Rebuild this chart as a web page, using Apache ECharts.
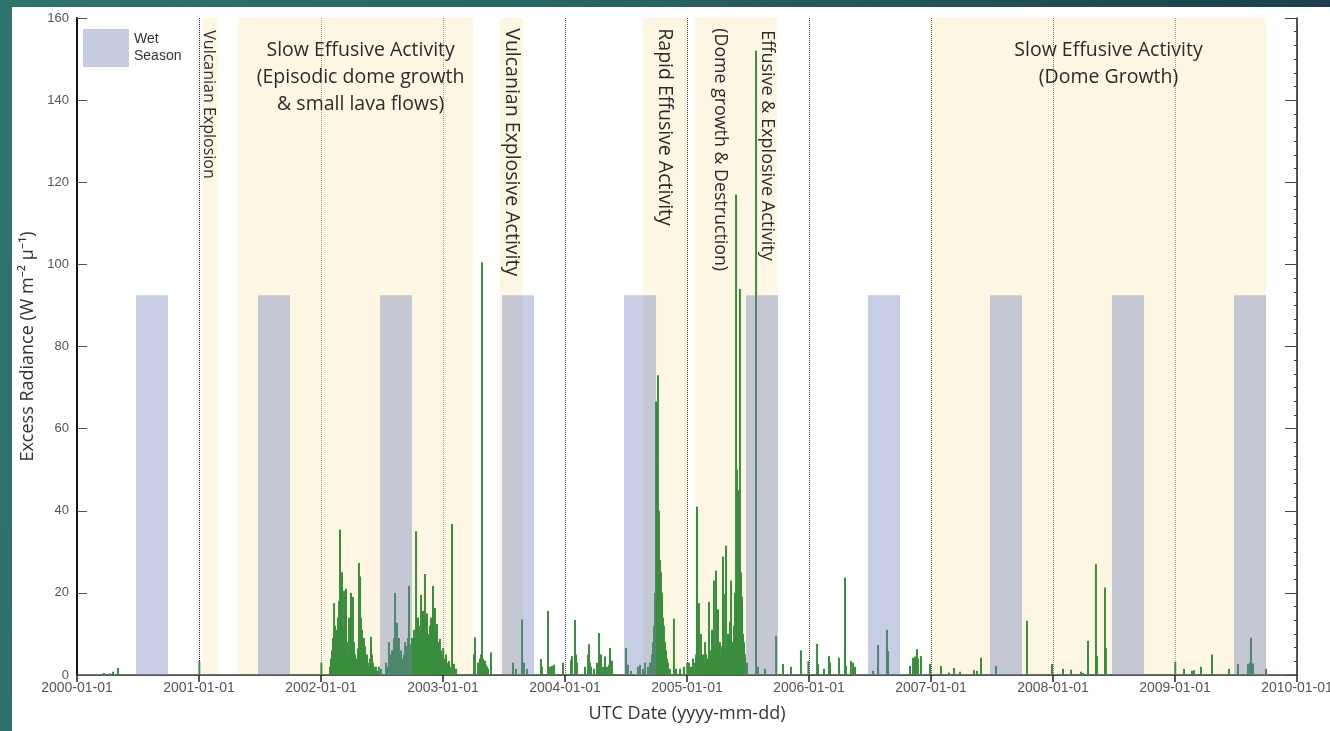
<!DOCTYPE html>
<html>
<head>
<meta charset="utf-8">
<script src="https://cdn.jsdelivr.net/npm/echarts@6/dist/echarts.min.js"></script>
<style>
  html, body { margin: 0; padding: 0; width: 1330px; height: 731px; overflow: hidden;
    background: linear-gradient(100deg, #2f746d 0%, #28625f 45%, #1a374b 100%); }
  #main { position: absolute; left: 12px; top: 7px; width: 1318px; height: 724px; background: #fff; }
</style>
</head>
<body>
<div id="main"></div>
<script>
// observation time as decimal year (UTC)
const obsYear = [
  // 2000 - 2001
  2000.221, 2000.270, 2000.295, 2000.336, 2001.003, 2002.003,
  // early 2002
  2002.074, 2002.082, 2002.090, 2002.098, 2002.107, 2002.115, 2002.123, 2002.131, 2002.139, 2002.148,
  2002.156, 2002.164, 2002.172, 2002.180, 2002.189, 2002.197, 2002.205, 2002.213, 2002.221, 2002.230,
  2002.238, 2002.246, 2002.254, 2002.262, 2002.270, 2002.279, 2002.287, 2002.295, 2002.303, 2002.311,
  2002.320, 2002.328, 2002.336, 2002.344, 2002.352, 2002.361, 2002.369, 2002.377, 2002.385, 2002.393,
  2002.402, 2002.410, 2002.418, 2002.426, 2002.434, 2002.451, 2002.467, 2002.475, 2002.492,
  // late 2002 - early 2003
  2002.533, 2002.541, 2002.557, 2002.566, 2002.574, 2002.582, 2002.590, 2002.598, 2002.607, 2002.615,
  2002.623, 2002.631, 2002.639, 2002.648, 2002.656, 2002.664, 2002.672, 2002.680, 2002.689, 2002.697,
  2002.705, 2002.713, 2002.721, 2002.730, 2002.738, 2002.746, 2002.754, 2002.762, 2002.770, 2002.779,
  2002.787, 2002.795, 2002.803, 2002.811, 2002.820, 2002.828, 2002.836, 2002.844, 2002.852, 2002.861,
  2002.869, 2002.877, 2002.885, 2002.893, 2002.902, 2002.910, 2002.918, 2002.926, 2002.934, 2002.943,
  2002.951, 2002.959, 2002.967, 2002.975, 2002.984, 2002.992, 2003.002, 2003.008, 2003.016, 2003.025,
  2003.033, 2003.041, 2003.049, 2003.057, 2003.074, 2003.090, 2003.107,
  // 2003
  2003.254, 2003.262, 2003.287, 2003.303, 2003.311, 2003.320, 2003.328, 2003.336, 2003.344, 2003.352,
  2003.361, 2003.369, 2003.393,
  2003.574, 2003.598, 2003.648, 2003.664, 2003.689, 2003.803, 2003.811, 2003.861, 2003.877, 2003.893,
  2003.910, 2003.984,
  // 2004
  2004.049, 2004.057, 2004.082, 2004.090, 2004.098, 2004.164, 2004.189, 2004.197, 2004.205, 2004.213,
  2004.238, 2004.262, 2004.270, 2004.279, 2004.287, 2004.295, 2004.303, 2004.320, 2004.328, 2004.344,
  2004.361, 2004.369, 2004.377, 2004.385, 2004.500, 2004.516, 2004.541, 2004.598, 2004.615, 2004.639,
  // rapid effusive phase
  2004.656, 2004.680, 2004.697, 2004.713, 2004.721, 2004.730, 2004.738, 2004.746, 2004.754, 2004.762,
  2004.770, 2004.779, 2004.787, 2004.795, 2004.803, 2004.811, 2004.820, 2004.828, 2004.836, 2004.844,
  2004.861, 2004.893, 2004.910, 2004.943, 2004.975, 2005.002, 2005.016, 2005.033, 2005.049,
  // 2005
  2005.066, 2005.074, 2005.082, 2005.090, 2005.098, 2005.107, 2005.115, 2005.123, 2005.131, 2005.139,
  2005.148, 2005.156, 2005.164, 2005.172, 2005.180, 2005.189, 2005.197, 2005.205, 2005.213, 2005.221,
  2005.230, 2005.238, 2005.246, 2005.254, 2005.262, 2005.270, 2005.279, 2005.287, 2005.295, 2005.303,
  2005.311, 2005.320, 2005.328, 2005.336, 2005.344, 2005.352, 2005.361, 2005.369, 2005.377, 2005.385,
  2005.393, 2005.402, 2005.410, 2005.418, 2005.426, 2005.434, 2005.443, 2005.451, 2005.459, 2005.467,
  2005.475, 2005.492, 2005.566, 2005.582, 2005.639, 2005.730,
  // late 2005 - 2009
  2005.787, 2005.852, 2005.934, 2005.995, 2006.066, 2006.074, 2006.123, 2006.164, 2006.172, 2006.246,
  2006.295, 2006.303, 2006.344, 2006.361, 2006.377, 2006.525, 2006.566, 2006.639, 2006.648, 2006.828,
  2006.852, 2006.869, 2006.885, 2006.893, 2006.918, 2006.992, 2007.082, 2007.148, 2007.189, 2007.238,
  2007.352, 2007.377, 2007.410, 2007.533, 2007.787, 2007.992, 2008.082, 2008.148, 2008.230, 2008.246,
  2008.287, 2008.352, 2008.361, 2008.426, 2008.434, 2009.002, 2009.074, 2009.139, 2009.156, 2009.213,
  2009.303, 2009.443, 2009.516, 2009.598, 2009.615, 2009.623, 2009.639, 2009.746
];

// excess radiance, W m-2 µ-1
const radiance = [
  0.5, 0.4, 0.8, 1.7, 3.4, 3,
  2, 4, 6, 9, 17.5, 12, 8, 11, 14, 18,
  35.4, 16, 25, 12, 20.5, 10, 21, 8, 5, 14,
  9, 20, 12, 19, 8, 5, 3, 4, 6.5, 27.3,
  24, 14, 11, 7, 9, 7, 4, 5, 3, 2,
  4, 9.3, 5, 3, 2, 2, 1, 2, 1.5,
  3, 2, 8, 4, 5, 6, 3, 9, 20, 5,
  12.7, 6, 9, 4, 6, 3, 4, 5, 8, 7,
  5, 9, 21.7, 6, 7.5, 9, 7, 11, 9, 35,
  10, 14, 12, 10, 19.5, 11, 15.6, 12, 24.6, 13,
  15, 9, 10, 12, 14, 10, 21.7, 13, 16.3, 10,
  12.4, 8, 6, 8.8, 6, 5, 6.6, 3, 4, 5,
  2, 3, 3.4, 2, 36.8, 2.7, 1.5,
  5, 9.2, 3, 4, 5, 100.5, 4, 3, 3.5, 2.5,
  2, 1.5, 5.5,
  3, 1.5, 13.5, 3, 1.5, 3.9, 2, 15.6, 2, 2.2,
  2.5, 3,
  3.6, 4.6, 13.4, 5, 3, 2, 5, 7.5, 3, 2,
  1.5, 3, 2.5, 10.2, 3, 5, 2, 2, 4.5, 2,
  2.5, 6.6, 3, 3.5, 6.6, 2.5, 1, 2, 2.5, 1.5,
  3, 2, 3, 5, 8, 12, 20, 66.6, 53, 73,
  40, 28, 25, 20, 14, 12, 8, 6, 4, 3,
  1.5, 13.7, 1.5, 1.5, 2, 3, 3, 2, 4,
  3, 5, 41, 6, 17.5, 4, 10, 3, 5, 3,
  8, 5, 4, 3, 17.8, 5, 6, 11, 4, 23,
  6, 25.4, 8, 16, 5, 8, 5, 7, 28.8, 19.7,
  6, 31.5, 9, 10, 6, 13, 23, 7, 8, 12,
  20, 117, 50, 30, 45, 94, 25, 19, 10, 8,
  5, 3, 152, 2, 1.5, 9.5,
  2.7, 2, 6, 3.4, 7.6, 2.7, 1.5, 4.6, 3, 4.2,
  23.7, 2.2, 3.4, 3, 2, 1, 7.3, 11, 5.8, 2.2,
  4.2, 4.5, 6.3, 4, 4.6, 2.7, 2.2, 0.6, 1.7, 0.8,
  1.2, 1, 4.2, 2.2, 13.2, 2.7, 1.5, 1.3, 0.8, 0.5,
  8.3, 27, 4.6, 21.3, 6.6, 3.2, 1.5, 1, 1.2, 2,
  5, 1.5, 2.7, 2.7, 3, 9.1, 2.8, 1.5
];

// wet season: late June to end of September each year
const wetSeasonYears = [2000, 2001, 2002, 2003, 2004, 2005, 2006, 2007, 2008, 2009];
const wetStartFrac = 0.484;
const wetEndFrac = 0.746;
const wetBoxTop = 92.5;

// eruptive phases (decimal years)
const phaseStart = [2001.03, 2001.32, 2003.467, 2004.64, 2005.066, 2006.99];
const phaseEnd = [2001.155, 2003.245, 2003.656, 2005.0, 2005.74, 2009.746];

const phaseLabels = [
  { text: 'Vulcanian Explosion', year: 2001.08, value: 157, vertical: true, size: 16 },
  { text: 'Slow Effusive Activity\n(Episodic dome growth\n& small lava flows)', year: 2002.325, value: 155.5, size: 19.5 },
  { text: 'Vulcanian Explosive Activity', year: 2003.565, value: 157.5, vertical: true, size: 19.5 },
  { text: 'Rapid Effusive Activity', year: 2004.82, value: 157.5, vertical: true, size: 19.5 },
  { text: '(Dome growth & Destruction)', year: 2005.27, value: 157.5, vertical: true, size: 17.8 },
  { text: 'Effusive & Explosive Activity', year: 2005.655, value: 157, vertical: true, size: 18 },
  { text: 'Slow Effusive Activity\n(Dome Growth)', year: 2008.455, value: 155.5, size: 19.5 }
];

const labelFont = '"Open Sans", "Noto Sans", sans-serif';
const tickFont = '"Liberation Sans", Arial, sans-serif';

const barData = obsYear.map((y, i) => [y, radiance[i]]);
const wetData = wetSeasonYears.map(y => [y + wetStartFrac, y + wetEndFrac]);
const phaseData = phaseStart.map((s, i) => [s, phaseEnd[i]]);

function bandItem(top, fill) {
  return function (params, api) {
    const p0 = api.coord([api.value(0), top]);
    const p1 = api.coord([api.value(1), 0]);
    return {
      type: 'rect',
      shape: { x: p0[0], y: p0[1], width: p1[0] - p0[0], height: p1[1] - p0[1] },
      style: { fill: fill }
    };
  };
}

const chart = echarts.init(document.getElementById('main'));

const option = {
  animation: false,
  textStyle: { fontFamily: tickFont },
  grid: { left: 65, right: 33, top: 11, bottom: 56, containLabel: false, outerBoundsMode: 'none' },
  legend: {
    data: [{ name: 'Wet Season', icon: 'rect' }],
    left: 71, top: 22, padding: 0,
    itemWidth: 46, itemHeight: 38,
    selectedMode: false,
    formatter: 'Wet\nSeason',
    textStyle: { fontFamily: tickFont, fontSize: 14, color: '#333', lineHeight: 17 }
  },
  xAxis: [{
    type: 'value', min: 2000, max: 2010, interval: 1, z: 1,
    name: 'UTC Date (yyyy-mm-dd)', nameLocation: 'middle', nameGap: 30,
    nameTextStyle: { fontFamily: labelFont, fontSize: 18, color: '#333' },
    axisLine: { lineStyle: { color: '#888', width: 1 } },
    axisTick: { show: false },
    axisLabel: {
      formatter: v => v + '-01-01', color: '#555', fontSize: 14, fontFamily: tickFont, margin: 6,
      showMinLabel: true, showMaxLabel: true
    },
    splitLine: {
      show: true,
      lineStyle: {
        type: 'dotted', width: 1,
        color: ['#888', '#222', '#999', '#999', '#555', '#333', '#333', '#555', '#777', '#999', '#888']
      }
    }
  }, {
    type: 'value', min: 2000, max: 2010, interval: 1, position: 'top', z: 1,
    axisLine: { lineStyle: { color: '#444', width: 1.5 } },
    axisTick: { inside: true, length: 7, lineStyle: { color: '#222', width: 1.5 } },
    axisLabel: { show: false },
    splitLine: { show: false }
  }],
  yAxis: [{
    type: 'value', min: 0, max: 160, interval: 20, z: 1,
    name: 'Excess Radiance (W m\u207B\u00B2 \u03BC\u207B\u00B9)', nameLocation: 'middle', nameGap: 37,
    nameTextStyle: { fontFamily: labelFont, fontSize: 18, color: '#333' },
    axisLine: { show: true, lineStyle: { color: '#111', width: 2 } },
    axisTick: { show: true, inside: true, length: 10, lineStyle: { color: '#555' } },
    axisLabel: { color: '#555', fontSize: 13, fontFamily: tickFont, margin: 8 },
    splitLine: { show: false }
  }, {
    type: 'value', min: 0, max: 160, interval: 20, position: 'right', z: 1,
    axisLine: { show: true, lineStyle: { color: '#222', width: 1.5 } },
    axisTick: { show: true, inside: true, length: 12, lineStyle: { color: '#444' } },
    minorTick: { show: true, splitNumber: 6, length: 3, lineStyle: { color: '#333' } },
    axisLabel: { show: false },
    splitLine: { show: false }
  }],
  series: [{
    name: 'Activity phase',
    type: 'custom',
    z: 0,
    silent: true,
    renderItem: bandItem(160, '#fdf6e3'),
    data: phaseData
  }, {
    name: 'Excess radiance',
    type: 'bar',
    z: 2,
    silent: true,
    barWidth: 2,
    itemStyle: { color: '#3b8d3e' },
    data: barData
  }, {
    name: 'Wet Season',
    type: 'custom',
    z: 3,
    silent: true,
    itemStyle: { color: '#c5cce2' },
    renderItem: bandItem(wetBoxTop, 'rgba(108,126,185,0.39)'),
    data: wetData
  }]
};

chart.setOption(option);

// phase annotations, placed through the chart's own coordinate system
const graphics = phaseLabels.map(l => {
  const p = chart.convertToPixel({ gridIndex: 0 }, [l.year, l.value]);
  return {
    type: 'text',
    x: p[0], y: p[1],
    rotation: l.vertical ? -Math.PI / 2 : 0,
    z: 10,
    silent: true,
    style: {
      text: l.text,
      fill: '#2b2b2b',
      fontFamily: labelFont,
      fontSize: l.size,
      lineHeight: Math.round(l.size * 1.36),
      align: l.vertical ? 'left' : 'center',
      verticalAlign: l.vertical ? 'middle' : 'top'
    }
  };
});
chart.setOption({ graphic: graphics });
</script>
</body>
</html>
